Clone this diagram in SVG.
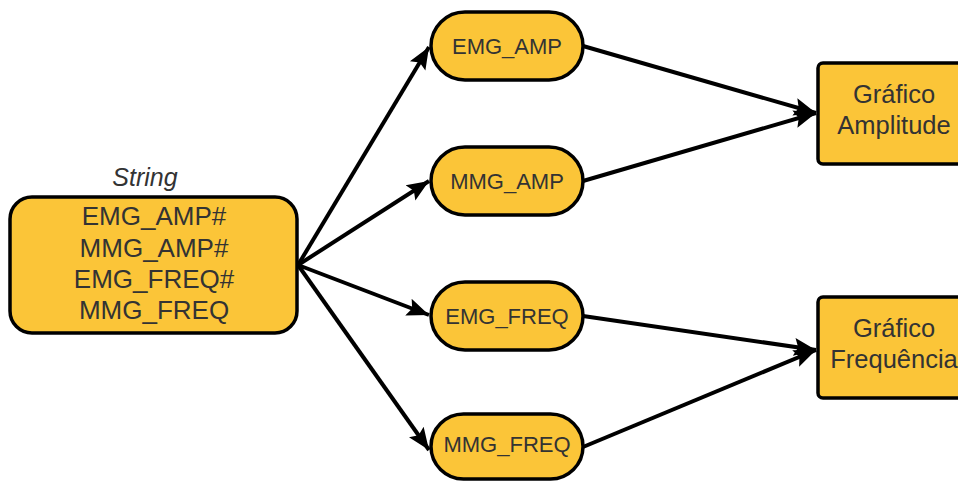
<svg xmlns="http://www.w3.org/2000/svg" width="958" height="481" viewBox="0 0 958 481">
<defs>
<style>
.n{fill:#FBC538;stroke:#000;stroke-width:3.5}
.t{font-family:"Liberation Sans",Arial,sans-serif;fill:#333;text-anchor:middle}
.c{stroke:#000;stroke-width:4;fill:none;marker-end:url(#ah)}
</style>
<marker id="ah" markerUnits="userSpaceOnUse" markerWidth="24" markerHeight="20" refX="22" refY="9" orient="auto" viewBox="0 0 24 18">
<path d="M0,0 L22,9 L0,18 L4,9 Z" fill="#000"/>
</marker>
</defs>
<rect width="958" height="481" fill="#fff"/>
<g id="connectors">
<line class="c" x1="298" y1="265" x2="429" y2="47"/>
<line class="c" x1="298" y1="265" x2="429" y2="181"/>
<line class="c" x1="298" y1="265" x2="429" y2="315"/>
<line class="c" x1="298" y1="265" x2="429" y2="450"/>
<line class="c" x1="583" y1="46" x2="816" y2="113"/>
<line class="c" x1="583" y1="181" x2="816" y2="113"/>
<line class="c" x1="583" y1="316" x2="816" y2="350"/>
<line class="c" x1="583" y1="447" x2="816" y2="350"/>
</g>
<g id="source">
<text class="t" x="145" y="186" font-size="25" font-style="italic">String</text>
<rect class="n" x="10" y="197" width="287" height="136" rx="22"/>
<text class="t" x="154" y="225" font-size="26">EMG_AMP#</text>
<text class="t" x="154" y="257" font-size="26">MMG_AMP#</text>
<text class="t" x="154" y="288" font-size="26">EMG_FREQ#</text>
<text class="t" x="154" y="319" font-size="26">MMG_FREQ</text>
</g>
<g id="emg_amp">
<rect class="n" x="431" y="12" width="152" height="68" rx="34"/>
<text class="t" x="507" y="53.5" font-size="22">EMG_AMP</text>
</g>
<g id="mmg_amp">
<rect class="n" x="431" y="147" width="152" height="68" rx="34"/>
<text class="t" x="507" y="188.5" font-size="22">MMG_AMP</text>
</g>
<g id="emg_freq">
<rect class="n" x="431" y="282" width="152" height="68" rx="34"/>
<text class="t" x="507" y="323.5" font-size="22">EMG_FREQ</text>
</g>
<g id="mmg_freq">
<rect class="n" x="431" y="414" width="152" height="65" rx="32.5"/>
<text class="t" x="507" y="452" font-size="22">MMG_FREQ</text>
</g>
<g id="grafico_amplitude">
<rect class="n" x="818" y="63" width="152" height="101" rx="5"/>
<text class="t" x="894" y="103" font-size="25.5">Gráfico</text>
<text class="t" x="894" y="134" font-size="25.5">Amplitude</text>
</g>
<g id="grafico_frequencia">
<rect class="n" x="818" y="297" width="152" height="101" rx="5"/>
<text class="t" x="894" y="337" font-size="25.5">Gráfico</text>
<text class="t" x="894" y="368" font-size="25.5">Frequência</text>
</g>
</svg>
